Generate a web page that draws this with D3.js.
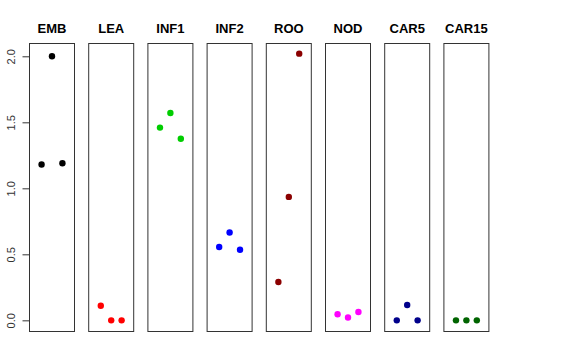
<!DOCTYPE html>
<meta charset="utf-8">
<head>
  <title>Strip panels</title>
  <script src="https://cdn.jsdelivr.net/npm/d3@7"></script>
  <style>
    body { margin: 0; background: #fff; }
    text { font-family: "Liberation Sans", Arial, sans-serif; }
  </style>
</head>
<body>
<div id="chart"></div>
<script>
  // data, one array per panel (3 replicates each)
  var groups = ["EMB", "LEA", "INF1", "INF2", "ROO", "NOD", "CAR5", "CAR15"];
  var colors = ["#000000", "#FF0000", "#00CD00", "#0000FF", "#8B0000", "#FF00FF", "#00008B", "#006400"];
  var EMB   = [1.18, 2.0, 1.19];
  var LEA   = [0.11, 0.0, 0.0];
  var INF1  = [1.46, 1.57, 1.375];
  var INF2  = [0.555, 0.665, 0.535];
  var ROO   = [0.29, 0.935, 2.02];
  var NOD   = [0.046, 0.022, 0.063];
  var CAR5  = [0.0, 0.116, 0.0];
  var CAR15 = [0.0, 0.0, 0.0];
  var yTicks = [0, 0.5, 1, 1.5, 2];

  var values = [EMB, LEA, INF1, INF2, ROO, NOD, CAR5, CAR15];

  var w = 576, h = 360;
  var panelW = 45, step = 59.2, left = 29;
  var plotTop = 43, plotBottom = 331;

  var svg = d3.select("#chart").append("svg")
      .attr("width", w).attr("height", h);

  // shared y scale, R style 4% padding
  var yMax = d3.max(values, v => d3.max(v));
  var pad = yMax * 0.04;
  var y = d3.scaleLinear().domain([0 - pad, yMax + pad]).range([plotBottom, plotTop]);

  var x = d3.scaleLinear().domain([-0.16, 4.16]).range([0, panelW]);

  groups.forEach(function(g, i) {
    var p = svg.append("g").attr("transform", "translate(" + (left + i * step) + ",0)");
    p.append("rect")
      .attr("x", 0.5).attr("y", plotTop + 0.5)
      .attr("width", panelW).attr("height", plotBottom - plotTop)
      .attr("fill", "none").attr("stroke", "#333").attr("stroke-width", 1);
    p.append("text")
      .attr("x", panelW / 2 + 0.5).attr("y", 33)
      .attr("text-anchor", "middle")
      .attr("font-size", 13).attr("font-weight", "bold")
      .text(g);
    p.selectAll("circle").data(values[i]).enter().append("circle")
      .attr("cx", (d, j) => x(j + 1) + 0.5)
      .attr("cy", d => y(d))
      .attr("r", 3.2)
      .attr("fill", colors[i]);
  });

  // y axis on the left edge of the first panel
  var axis = d3.axisLeft(y).tickValues(yTicks).tickFormat(d3.format(".1f")).tickSize(7);
  var ag = svg.append("g").attr("transform", "translate(" + (left + 0.5) + ",0)").call(axis);
  ag.select(".domain").remove();
  ag.selectAll(".tick line").attr("stroke", "#333");
  ag.selectAll(".tick text")
    .attr("font-size", 11)
    .attr("font-family", "Liberation Sans, Arial, sans-serif")
    .attr("fill", "#333")
    .attr("transform", "rotate(-90)")
    .attr("x", 0).attr("y", -15).attr("dy", "0")
    .attr("text-anchor", "middle");
</script>
</body>
</html>
